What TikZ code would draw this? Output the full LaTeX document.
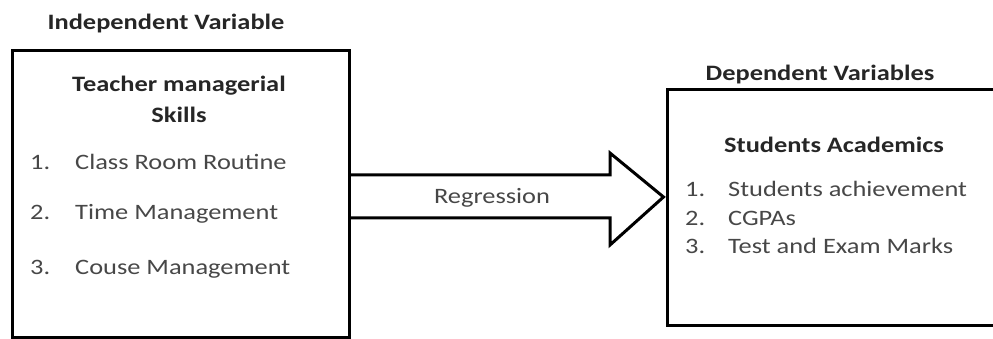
\documentclass[tikz,border=0pt]{standalone}
\usepackage{fontspec}
\setmainfont{Carlito}[FakeStretch=1.2]
\begin{document}
\begin{tikzpicture}[x=1pt,y=-1pt,
  frame/.style={draw=black, line width=3pt, inner sep=0pt},
  txt/.style={font=\fontsize{22}{26}\selectfont, text=black!72, inner sep=0pt},
  head/.style={font=\fontsize{22}{26}\selectfont\bfseries, text=black!85, inner sep=0pt, align=center},
  bigarrow/.style={draw=black, line width=3pt, line join=miter}]
  \clip (0,0) rectangle (993,339);
  \useasboundingbox (0,0) rectangle (993,339);

  % boxes
  \node[frame, minimum width=337, minimum height=286] (indep) at (180.5,194) {};
  \node[frame, minimum width=343, minimum height=235] (dep) at (838.5,207.5) {};

  % headings above the boxes
  \node[head] (indtitle) at (166,24) {Independent Variable};
  \node[head] (deptitle) at (820,75) {Dependent Variables};

  % left box contents
  \node[head] (teacher) at (179,86) {Teacher managerial};
  \node[head] (skills) at (179,115) {Skills};
  \node[txt, anchor=mid west] (n1) at (30,167) {1.};
  \node[txt, anchor=mid west] (i1) at (75,167) {Class Room Routine};
  \node[txt, anchor=mid west] (n2) at (30,217) {2.};
  \node[txt, anchor=mid west] (i2) at (75,217) {Time Management};
  \node[txt, anchor=mid west] (n3) at (30,272) {3.};
  \node[txt, anchor=mid west] (i3) at (75,272) {Couse Management};

  % right box contents
  \node[head] (acad) at (834,145) {Students Academics};
  \node[txt, anchor=mid west] (m1) at (685,194) {1.};
  \node[txt, anchor=mid west] (j1) at (728,194) {Students achievement};
  \node[txt, anchor=mid west] (m2) at (685,223) {2.};
  \node[txt, anchor=mid west] (j2) at (728,223) {CGPAs};
  \node[txt, anchor=mid west] (m3) at (685,251) {3.};
  \node[txt, anchor=mid west] (j3) at (728,251) {Test and Exam Marks};

  % block arrow between the boxes
  \coordinate (tip) at ([xshift=-2pt]dep.west |- 0,197);
  \draw[bigarrow] (indep.east |- 0,175) -- (610,175) -- (610,153) -- (tip)
    -- (610,245) -- (610,218) -- (indep.east |- 0,218);
  \node[txt] (reg) at (492,198) {Regression};
\end{tikzpicture}
\end{document}
